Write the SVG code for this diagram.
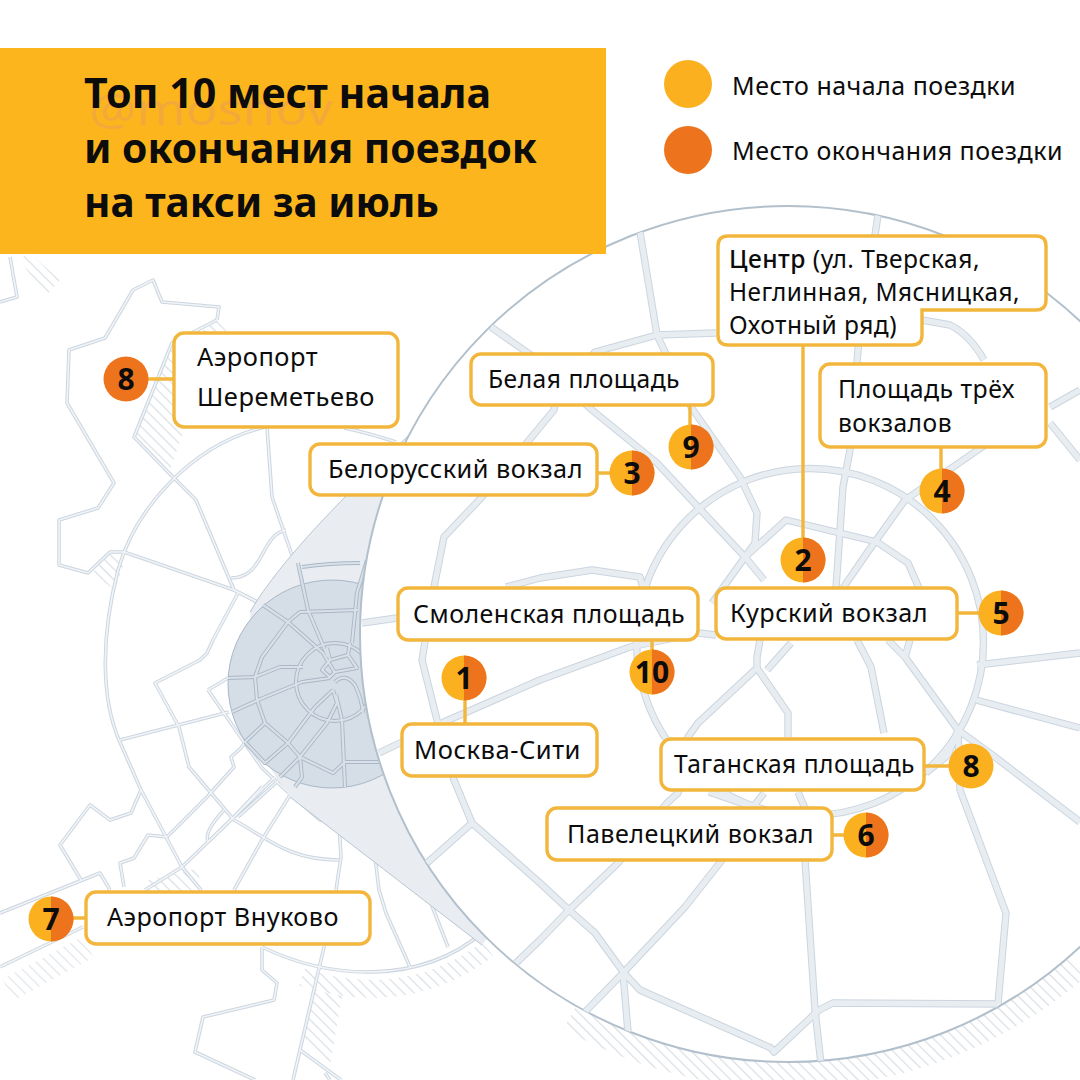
<svg xmlns="http://www.w3.org/2000/svg" xmlns:xlink="http://www.w3.org/1999/xlink" width="1080" height="1080" viewBox="0 0 1080 1080">
<style>
text{font-family:"Noto Sans","Open Sans","DejaVu Sans",sans-serif;fill:#0c0c0c}
.l{font-size:25.5px;letter-spacing:.5px}
.t{font-size:41px;font-weight:700}
.n{font-size:30px;font-weight:700;text-anchor:middle}
.box{fill:#fff;stroke:#f2b63c;stroke-width:3.4}
.lead{stroke:#f2b63c;stroke-width:3.4;fill:none}
.y{fill:#fbb01f}.o{fill:#ed741d}
.rd{fill:none;stroke-linejoin:round;stroke-linecap:butt}
</style>
<defs>
<pattern id="hatch" width="7.5" height="7.5" patternUnits="userSpaceOnUse" patternTransform="rotate(-45)"><rect width="7.5" height="7.5" fill="#fff"/><rect x="0" y="0" width="1.2" height="7.5" fill="#d9dfe5"/></pattern>
<clipPath id="big"><circle cx="788" cy="634" r="428"/></clipPath>
<g id="outer">
<path d="M10 257L17 297L0 302"/>
<path d="M217 320L219 307L162 302L153 280L133 290L105 338L69 350L67 403L114 483L98 508L59 520L59 565L88 573L110 552L126 552"/>
<path d="M217 320L172 343L134 437L169 473L196 500L234 590L263 605"/>
<path d="M396 442Q365 432 344 428M265 427C190 445 135 510 118 570C100 640 102 700 119 740L141 790L182 867L201 890"/>
<path d="M262 947C330 980 420 985 482 933"/>
<path d="M267 427L272 497L296 567L306 610"/>
<path d="M124 552L234 590L263 605"/>
<path d="M286 530C260 535 265 578 231 578"/>
<path d="M238 593L213 640L207 653L200 660L155 683L179 727L189 767L234 820C270 840 290 860 339 860"/>
<path d="M120 740L229 712"/>
<path d="M208 690L228 678M208 690L246 745L262 768L293 797L320 820L339 823"/>
<path d="M141 790L131 813L110 820L90 805L60 845L81 880"/>
<path d="M0 913L100 873L110 890"/>
<path d="M0 967L83 927"/>
<path d="M167 837L148 835L134 858L120 863L124 887"/>
<path d="M167 837L207 797L234 767L231 757L241 748L245 742"/>
<path d="M224 810C210 825 205 835 208 842"/>
<path d="M208 842L275 777M238 817L290 770"/>
<path d="M234 890L262 840L295 787"/>
<path d="M339 823L341 857L336 890L324 947L293 1080"/>
<path d="M382 780L379 817L375 857L379 890L386 913L410 967"/>
<path d="M348 813L379 815"/>
<path d="M348 813L413 867L427 893L448 947"/>
<path d="M262 947L262 970L277 983L274 1000L203 1017L195 1052L255 1080"/>
<path d="M300 1050L341 1080M325 1073L330 1080"/>
<path d="M145 890L182 867L234 817L262 787"/>
<path d="M345 787L348 813"/>
</g>
<g id="core">
<path d="M358 610L300 612L288 622L262 657L255 677L257 700L265 723L288 743L300 757L333 773L345 762L380 762"/>
<circle cx="335" cy="682" r="39"/>
<path d="M302 567Q330 563 360 563"/>
<path d="M298 563L308 610L328 657"/>
<path d="M263 605L288 622L323 653L335 673"/>
<path d="M327 648L330 660L322 670L330 677L335 672L357 668L348 655L330 660M350 643L348 655"/>
<path d="M335 682Q345 672 355 685Q362 700 363 713"/>
<path d="M228 678L255 677L280 667L303 667"/>
<path d="M232 712L258 700L302 682L330 678"/>
<path d="M333 690L315 707L288 743L265 763L245 742M265 723L245 742"/>
<path d="M333 690L337 703L327 723L300 757L280 777"/>
<path d="M336 695L342 720L345 787"/>
<path d="M300 757L302 777L295 787"/>
<path d="M367 560L357 593L352 643"/>
</g>
<g id="inner">
<circle cx="810" cy="642" r="173.500"/>
<path d="M716 333L657 335L595 352C570 380 554 400 554 410L482 497L444 537L434 587L422 660L437 720L454 780L472 823L540 883L569 910L595 933L624 973L640 990L771 1048L774 1052L819 1010L833 1003L998 1004"/>
<path d="M922 320L950 325Q970 335 984 360"/>
<path d="M998 1004L1006 913L960 790L958 730"/>
<path d="M491 327L535 358L592 410L657 463L698 507L745 557L764 580"/>
<path d="M640 232L657 335L691 407L740 477L757 513L755 543L745 557"/>
<path d="M878 215L858 350L850 450L843 487L836 588"/>
<path d="M745 557L786 520L877 542L908 563L919 588"/>
<path d="M988 443L905 500L867 553L843 588"/>
<path d="M745 557L712 603"/>
<path d="M977 665L1080 653M976 700L1080 728"/>
<path d="M958 730L995 757L1080 822"/>
<path d="M958 730L905 657L888 640M905 657L910 640"/>
<path d="M958 730L948 755L926 773"/>
<path d="M857 640L871 667L884 733"/>
<path d="M709 792L753 807"/>
<path d="M757 668L757 657L760 640M757 668L698 723L688 737L678 793L667 803L619 862L569 910L540 940L516 963"/>
<path d="M757 668L788 713L788 737"/>
<path d="M767 670L791 643"/>
<path d="M764 793L753 807L722 860L685 907L623 973L585 1012"/>
<path d="M623 973L628 1032"/>
<path d="M798 792L807 813L805 860L815 1010L821 1064"/>
<path d="M379 753L444 722L540 680L630 647L698 633L716 635"/>
<path d="M362 623L397 618"/>
<path d="M506 587L540 578L592 570L640 577L643 588"/>
<path d="M427 863L472 823"/>
<path d="M1050 407L1080 390M1050 423L1080 460"/>
</g>
</defs>
<rect width="1080" height="1080" fill="#fff"/>
<g id="map">
<path d="M20 260L45 297L60 280L28 252Z" fill="url(#hatch)"/>
<path d="M172 343L134 437L169 473L185 427L174 343Z" fill="url(#hatch)"/>
<path d="M212 318L230 330L200 335Z" fill="url(#hatch)"/>
<path d="M92 573L110 553L125 560L115 590Z" fill="url(#hatch)"/>
<path d="M320 973L300 1040L330 1065L345 980Z" fill="url(#hatch)"/>
<path d="M300 968C350 985 420 990 486 940" fill="none" stroke="url(#hatch)" stroke-width="18" transform="translate(2 9)"/>
<path d="M150 892L200 880" fill="none" stroke="url(#hatch)" stroke-width="24"/>
<path d="M0 978L80 935" fill="none" stroke="url(#hatch)" stroke-width="24" opacity=".8" transform="translate(8 12)"/>
<use xlink:href="#outer" class="rd" stroke="#ccd6e0" stroke-width="3.6"/>
<use xlink:href="#outer" class="rd" stroke="#f1f4f7" stroke-width="1.6"/>
<path d="M408 436C350 490 280 560 250 612L270 768L290 797L482 945L620 760L500 430Z" fill="#e9edf2"/>
<path d="M408 436C350 490 280 560 250 612M290 797L482 945" fill="none" stroke="#b9c6d2" stroke-width="1"/>
<circle cx="332" cy="684" r="104" fill="#d5dde6" stroke="#a9b7c5" stroke-width="1"/>
<use xlink:href="#core" class="rd" stroke="#a9b7c6" stroke-width="4"/>
<use xlink:href="#core" class="rd" stroke="#d9e0e8" stroke-width="2.2"/>
<path d="M570 1017A441 441 0 0 0 1080 964" fill="none" stroke="url(#hatch)" stroke-width="27"/>
<circle cx="788" cy="634" r="428" fill="#fff" stroke="#b2c0cc" stroke-width="2"/>
<g clip-path="url(#big)">
<use xlink:href="#inner" class="rd" stroke="#cbd5df" stroke-width="7.4"/>
<use xlink:href="#inner" class="rd" stroke="#e8edf2" stroke-width="5.4"/>
</g>
</g>
<g id="connectors">
<path class="lead" d="M148 379H174M690 405V425M597 473H610M803 345V538M941 447V469M957 613H979M465 700V724M652 640V650M924 766H949M832 835H844M73 918H86"/>
</g>
<g id="header">
<rect y="48" width="606" height="206" fill="#fdb51d"/>
<text x="89" y="125" style="font-size:44px;fill:#f3a93a" textLength="244" lengthAdjust="spacingAndGlyphs">@mosnov</text>
<text class="t" x="84" y="108" textLength="407" lengthAdjust="spacingAndGlyphs">Топ 10 мест начала</text>
<text class="t" x="84" y="163" textLength="453" lengthAdjust="spacingAndGlyphs">и окончания поездок</text>
<text class="t" x="84" y="217" textLength="355" lengthAdjust="spacingAndGlyphs">на такси за июль</text>
</g>
<g id="legend">
<circle class="y" cx="688" cy="84" r="24"/>
<circle class="o" cx="688" cy="150" r="24"/>
<text class="l" x="732" y="95" textLength="284" lengthAdjust="spacingAndGlyphs">Место начала поездки</text>
<text class="l" x="732" y="160" textLength="331" lengthAdjust="spacingAndGlyphs">Место окончания поездки</text>
</g>
<g id="node-sheremetyevo"><rect class="box" x="174" y="333" width="224" height="94" rx="10"/><text class="l" x="197" y="366" textLength="121" lengthAdjust="spacingAndGlyphs">Аэропорт</text><text class="l" x="197" y="406" textLength="178" lengthAdjust="spacingAndGlyphs">Шереметьево</text></g>
<g id="node-belaya"><rect class="box" x="471" y="354" width="242" height="51" rx="10"/><text class="l" x="488" y="388" textLength="192" lengthAdjust="spacingAndGlyphs">Белая площадь</text></g>
<g id="node-belorussky"><rect class="box" x="310" y="444" width="287" height="51" rx="10"/><text class="l" x="328" y="478" textLength="255" lengthAdjust="spacingAndGlyphs">Белорусский вокзал</text></g>
<g id="node-center"><path class="box" d="M728 236H1036Q1046 236 1046 246V300Q1046 310 1036 310H922V335Q922 345 912 345H728Q718 345 718 335V246Q718 236 728 236Z"/><text class="l" x="729" y="268" textLength="251" lengthAdjust="spacingAndGlyphs"><tspan font-weight="500">Центр</tspan> (ул. Тверская,</text><text class="l" x="729" y="301" textLength="291" lengthAdjust="spacingAndGlyphs">Неглинная, Мясницкая,</text><text class="l" x="729" y="334" textLength="168" lengthAdjust="spacingAndGlyphs">Охотный ряд)</text></g>
<g id="node-three-stations"><rect class="box" x="820" y="364" width="226" height="83" rx="10"/><text class="l" x="838" y="398" textLength="177" lengthAdjust="spacingAndGlyphs">Площадь трёх</text><text class="l" x="838" y="432" textLength="114" lengthAdjust="spacingAndGlyphs">вокзалов</text></g>
<g id="node-smolenskaya"><rect class="box" x="398" y="588" width="300" height="52" rx="10"/><text class="l" x="413" y="623" textLength="272" lengthAdjust="spacingAndGlyphs">Смоленская площадь</text></g>
<g id="node-kursky"><rect class="box" x="716" y="588" width="241" height="51" rx="10"/><text class="l" x="730" y="622" textLength="198" lengthAdjust="spacingAndGlyphs">Курский вокзал</text></g>
<g id="node-city"><rect class="box" x="402" y="724" width="195" height="52" rx="10"/><text class="l" x="414" y="759" textLength="167" lengthAdjust="spacingAndGlyphs">Москва-Сити</text></g>
<g id="node-taganskaya"><rect class="box" x="661" y="739" width="263" height="51" rx="10"/><text class="l" x="674" y="773" textLength="241" lengthAdjust="spacingAndGlyphs">Таганская площадь</text></g>
<g id="node-paveletsky"><rect class="box" x="547" y="808" width="285" height="52" rx="10"/><text class="l" x="567" y="843" textLength="247" lengthAdjust="spacingAndGlyphs">Павелецкий вокзал</text></g>
<g id="node-vnukovo"><rect class="box" x="86" y="892" width="284" height="52" rx="10"/><text class="l" x="107" y="926" textLength="232" lengthAdjust="spacingAndGlyphs">Аэропорт Внуково</text></g>
<g id="marker-8a"><circle class="o" cx="126" cy="379" r="22.5"/><text class="n" x="126" y="390">8</text></g>
<g id="marker-3"><circle class="y" cx="632" cy="473" r="22.5"/><path class="o" d="M632 450.500A22.500 22.500 0 0 1 632 495.500Z"/><text class="n" x="632" y="484">3</text></g>
<g id="marker-9"><circle class="y" cx="691" cy="447" r="22.500"/><path class="o" d="M691 424.500A22.500 22.500 0 0 1 691 469.500Z"/><text class="n" x="691" y="458">9</text></g>
<g id="marker-4"><circle class="y" cx="942" cy="491" r="22.500"/><path class="o" d="M942 468.500A22.500 22.500 0 0 1 942 513.500Z"/><text class="n" x="942" y="502">4</text></g>
<g id="marker-2"><circle class="y" cx="803" cy="560" r="22.500"/><path class="o" d="M803 537.500A22.500 22.500 0 0 1 803 582.500Z"/><text class="n" x="803" y="571">2</text></g>
<g id="marker-5"><circle class="y" cx="1001" cy="613" r="22.500"/><path class="o" d="M1001 590.500A22.500 22.500 0 0 1 1001 635.500Z"/><text class="n" x="1001" y="624">5</text></g>
<g id="marker-1"><circle class="y" cx="464" cy="678" r="22.500"/><path class="o" d="M464 655.500A22.500 22.500 0 0 1 464 700.500Z"/><text class="n" x="464" y="689">1</text></g>
<g id="marker-10"><circle class="y" cx="652" cy="672" r="22.500"/><path class="o" d="M652 649.500A22.500 22.500 0 0 1 652 694.500Z"/><text class="n" x="652" y="683">10</text></g>
<g id="marker-8b"><circle class="y" cx="971" cy="766" r="22.500"/><text class="n" x="971" y="777">8</text></g>
<g id="marker-6"><circle class="y" cx="866" cy="835" r="22.500"/><path class="o" d="M866 812.500A22.500 22.500 0 0 1 866 857.500Z"/><text class="n" x="866" y="846">6</text></g>
<g id="marker-7"><circle class="y" cx="51" cy="919" r="22.500"/><path class="o" d="M51 896.500A22.500 22.500 0 0 1 51 941.500Z"/><text class="n" x="51" y="930">7</text></g>
</svg>
